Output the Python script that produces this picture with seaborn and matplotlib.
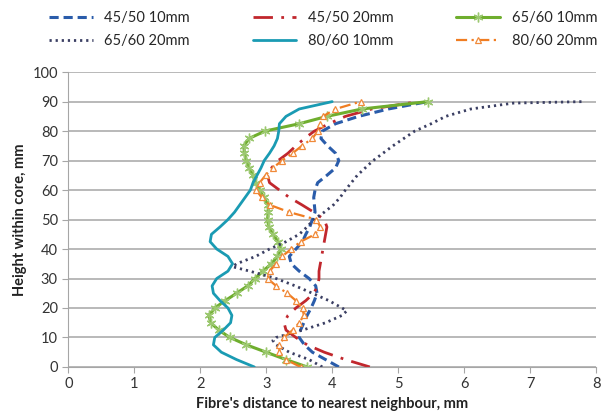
import numpy as np
import pandas as pd
import matplotlib
matplotlib.use('Agg')
import matplotlib.pyplot as plt
import seaborn as sns

sns.set_style('white')
plt.rcParams['font.family'] = ['Lato', 'DejaVu Sans']

# heights within core (mm) shared by most series
heights = [0, 2.5, 5, 7.5, 10, 12.5, 15, 17.5, 20, 22.5, 25, 27.5, 30, 32.5, 35, 37.5,
           40, 42.5, 45, 47.5, 50, 52.5, 55, 57.5, 60, 62.5, 65, 67.5, 70, 72.5, 75,
           77.5, 80, 82.5, 85, 87.5, 90]

d_45_10 = [4.1, 3.9, 3.7, 3.58, 3.5, 3.52, 3.57, 3.62, 3.68, 3.73, 3.77, 3.75, 3.65, 3.5,
           3.38, 3.35, 3.45, 3.55, 3.6, 3.66, 3.7, 3.74, 3.73, 3.72, 3.74, 3.78, 3.92,
           4.05, 4.1, 4.05, 3.93, 3.83, 3.85, 4.05, 4.4, 4.85, 5.45]
d_45_20 = [4.57, 4.2, 3.88, 3.62, 3.45, 3.3, 3.27, 3.33, 3.45, 3.6, 3.72, 3.78, 3.8, 3.8,
           3.82, 3.84, 3.86, 3.88, 3.9, 3.92, 3.88, 3.72, 3.54, 3.35, 3.2, 3.05, 3.02,
           3.08, 3.18, 3.33, 3.45, 3.58, 3.73, 3.95, 4.2, 4.6, 5.3]
d_65_10 = [3.62, 3.3, 3.0, 2.7, 2.45, 2.28, 2.16, 2.13, 2.22, 2.38, 2.55, 2.72, 2.83, 2.95,
           3.08, 3.17, 3.22, 3.18, 3.1, 3.04, 3.02, 3.03, 3.03, 2.96, 2.9, 2.84, 2.8,
           2.74, 2.7, 2.67, 2.66, 2.74, 2.98, 3.5, 3.92, 4.45, 5.45]
d_80_10 = [2.82, 2.55, 2.32, 2.2, 2.22, 2.35, 2.46, 2.48, 2.42, 2.3, 2.2, 2.18, 2.25, 2.42,
           2.49, 2.42, 2.25, 2.15, 2.17, 2.3, 2.42, 2.52, 2.6, 2.68, 2.76, 2.8, 2.86,
           2.92, 2.97, 3.05, 3.12, 3.17, 3.19, 3.2, 3.3, 3.5, 4.0]
d_80_20 = [3.52, 3.3, 3.2, 3.2, 3.27, 3.4, 3.5, 3.57, 3.55, 3.45, 3.32, 3.15, 3.02, 3.05,
           3.15, 3.24, 3.38, 3.52, 3.74, 3.82, 3.76, 3.35, 3.05, 2.93, 2.85, 2.9, 2.99,
           3.1, 3.24, 3.4, 3.54, 3.7, 3.78, 3.82, 3.86, 4.05, 4.43]

heights_65_20 = [0, 2.5, 5, 7.5, 9, 10, 12.5, 15, 17.5, 19, 20, 22.5, 25, 27.5, 30, 32.5,
                 34, 35, 37.5, 40, 42.5, 45, 47.5, 50, 52.5, 55, 57.5, 60, 65, 70, 75, 80,
                 82.5, 85, 87.5, 89.5, 90]
d_65_20 = [3.85, 3.65, 3.35, 3.15, 3.1, 3.15, 3.55, 3.9, 4.15, 4.22, 4.15, 3.95, 3.7, 3.44,
           3.15, 2.75, 2.49, 2.55, 2.84, 3.05, 3.3, 3.5, 3.62, 3.72, 3.88, 4.02, 4.12,
           4.2, 4.38, 4.62, 4.92, 5.25, 5.5, 5.72, 6.1, 6.75, 7.8]

fig, ax = plt.subplots(figsize=(6.04, 4.17), dpi=100)
fig.subplots_adjust(left=0.113, right=0.987, bottom=0.12, top=0.827)

ax.yaxis.grid(True, color='#a6a6a6', lw=1.1)
ax.set_axisbelow(True)

sns.lineplot(x=d_45_10, y=heights, sort=False, estimator=None, ax=ax, color='#2a5caa',
             lw=2.2, linestyle=(0, (3, 1.6)), label='45/50 10mm')
sns.lineplot(x=d_45_20, y=heights, sort=False, estimator=None, ax=ax, color='#c1272d',
             lw=2.0, linestyle=(0, (7, 3, 1, 3)), label='45/50 20mm')
sns.lineplot(x=d_65_10, y=heights, sort=False, estimator=None, ax=ax, color='#6fae2e',
             lw=2.2, marker=(6, 2, 0), markersize=7, markeredgecolor='#9cc870',
             markeredgewidth=1, label='65/60 10mm')
sns.lineplot(x=d_65_20, y=heights_65_20, sort=False, estimator=None, ax=ax, color='#3b3f63',
             lw=2.0, linestyle=(0, (0.8, 1.4)), label='65/60 20mm')
sns.lineplot(x=d_80_10, y=heights, sort=False, estimator=None, ax=ax, color='#1a9bb3',
             lw=2.0, label='80/60 10mm')
sns.lineplot(x=d_80_20, y=heights, sort=False, estimator=None, ax=ax, color='#f07d22',
             lw=1.6, linestyle=(0, (5, 2, 1, 2)), marker='^', markersize=5,
             markerfacecolor='white', markeredgecolor='#f08a3a', markeredgewidth=0.9,
             label='80/60 20mm')

ax.set_xlim(0, 8)
ax.set_ylim(0, 100)
ax.set_xticks(range(0, 9))
ax.set_yticks(range(0, 101, 10))
ax.tick_params(bottom=True, left=True, direction='out', length=4, color='#a6a6a6',
               labelsize=10.5, labelcolor='#333333')
sns.despine(ax=ax)
for s in ['left', 'bottom']:
    ax.spines[s].set_color('#a6a6a6')

ax.set_xlabel("Fibre's distance to nearest neighbour, mm", fontsize=10.5,
              fontweight='bold', color='#222222')
ax.set_ylabel('Height within core, mm', fontsize=10.5, fontweight='bold', color='#222222')

handles, labels = ax.get_legend_handles_labels()
ax.get_legend().remove()
order = [0, 3, 1, 4, 2, 5]
fig.legend([handles[i] for i in order], [labels[i] for i in order], ncol=3,
           loc='upper center', bbox_to_anchor=(0.535, 1.005), frameon=False,
           fontsize=10.5, handlelength=3, columnspacing=4.3, labelspacing=0.6)

fig.savefig('out.png', dpi=100)
